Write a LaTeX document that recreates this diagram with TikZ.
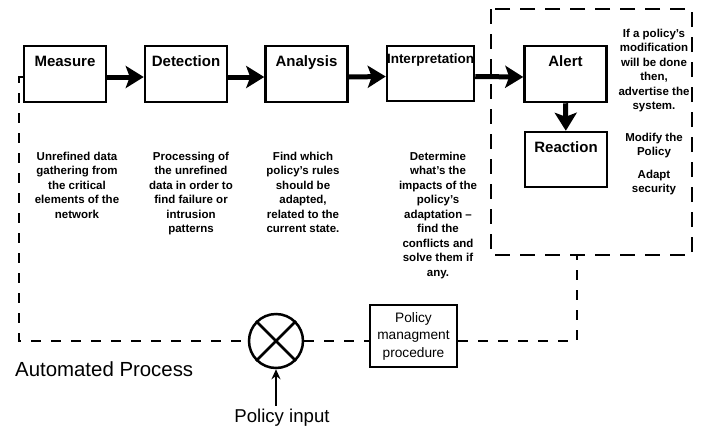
\documentclass[tikz,border=0pt]{standalone}
\usepackage{fontspec}
\setmainfont{Liberation Sans}
\usetikzlibrary{arrows.meta}
\begin{document}
\begin{tikzpicture}[x=1pt,y=-1pt,
    box/.style={draw, line width=2.5, minimum width=82, minimum height=56, inner sep=0},
    boxtitle/.style={anchor=base, inner sep=0, font=\bfseries\fontsize{15}{18}\selectfont},
    note/.style={anchor=north, align=center, inner sep=0, font=\bfseries\fontsize{11.5}{14.5}\selectfont},
    flow/.style={-{Stealth[length=18pt,width=22pt,inset=4pt]}, line width=5},
    loop/.style={dash pattern=on 10pt off 10pt, line width=2.5}]
    \useasboundingbox (0,0) rectangle (705,432);
    \node [box] (measure) at (65,74) {};
    \node [box] (detection) at (186,74) {};
    \node [box] (analysis) at (306.5,74) {};
    \node [box, minimum width=87, minimum height=55] (interp) at (430.5,73.5) {};
    \node [box] (alert) at (565.5,74) {};
    \node [box, minimum height=55] (reaction) at (566,159.5) {};
    \node [boxtitle] (measure-t) at (65,66.5) {Measure};
    \node [boxtitle] (detection-t) at (186,66.5) {Detection};
    \node [boxtitle] (analysis-t) at (306.5,66.5) {Analysis};
    \node [boxtitle, font=\bfseries\fontsize{13.5}{16}\selectfont] (interp-t) at (430.5,63) {Interpretation};
    \node [boxtitle] (alert-t) at (565.5,66.5) {Alert};
    \node [boxtitle] (reaction-t) at (566,152.5) {Reaction};
    \draw [flow] ([yshift=-3pt]measure.east) -- ([yshift=-3pt]detection.west);
    \draw [flow] ([yshift=-3pt]detection.east) -- ([yshift=-3pt]analysis.west);
    \draw [flow] ([yshift=-3pt]analysis.east) -- ([yshift=-3pt]interp.west);
    \draw [flow] ([yshift=-3pt]interp.east) -- ([yshift=-3pt]alert.west);
    \draw [flow] (alert) -- (reaction);
    \node [note] (measure-n) at (77,151.5) {Unrefined data\\gathering from\\the critical\\elements of the\\network};
    \node [note] (detection-n) at (191,151.5) {Processing of\\the unrefined\\data in order to\\find failure or\\intrusion\\patterns};
    \node [note] (analysis-n) at (303,151.5) {Find which\\policy's rules\\should be\\adapted,\\related to the\\current state.};
    \node [note] (interp-n) at (438,151.5) {Determine\\what's the\\impacts of the\\policy's\\adaptation --\\find the\\conflicts and\\solve them if\\any.};
    \node [note] (alert-n) at (654,28.5) {If a policy's\\modification\\will be done\\then,\\advertise the\\system.};
    \node [note] (modify-n) at (654,132.5) {Modify the\\Policy};
    \node [note] (adapt-n) at (654,169.5) {Adapt\\security};
    \draw [dash pattern=on 15pt off 10pt, line width=2.5] (491,9) rectangle (692,255);
    \coordinate (drop) at (577,255);
    \coordinate (corner) at (19,341);
    \node [circle, draw, line width=2.5, minimum size=54, inner sep=0] (mixer) at (276,341) {};
    \draw [line width=2.5] (mixer.north west) -- (mixer.south east) (mixer.north east) -- (mixer.south west);
    \node [draw, line width=2.5, minimum width=87, minimum height=62, inner sep=0, align=center, font=\fontsize{13.7}{17.5}\selectfont] (policy) at (413.5,336) {Policy\\managment\\procedure};
    \draw [loop] ([yshift=-3pt]measure.west) -| (corner) -- (mixer.west);
    \draw [loop] (mixer.east) -- (mixer.east -| policy.west);
    \draw [loop] (mixer.east -| policy.east) -| (drop);
    \node [font=\fontsize{18.6}{22}\selectfont] (input) at (282,418) {Policy input};
    \draw [-{Stealth[length=10pt,width=9pt]}, line width=2] (input.north -| mixer.south) -- (mixer.south);
    \node [anchor=west, inner sep=0, font=\fontsize{20.4}{24}\selectfont] (auto) at (15,369) {Automated Process};
\end{tikzpicture}
\end{document}
